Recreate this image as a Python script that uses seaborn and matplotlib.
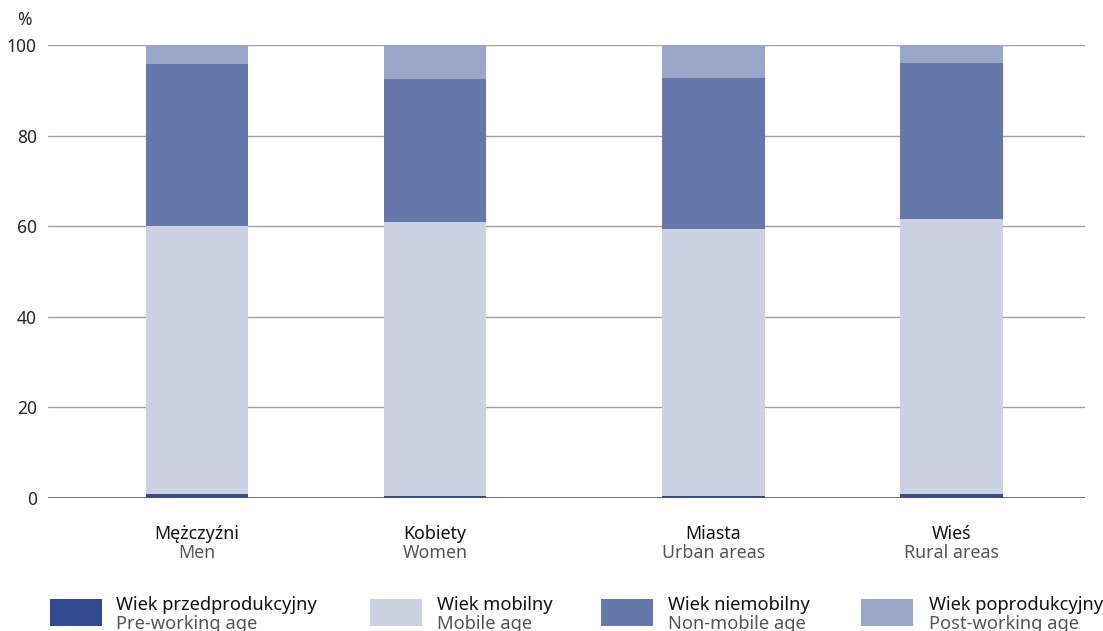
import pandas as pd
import seaborn as sns
import matplotlib.pyplot as plt
import matplotlib.transforms as mtransforms
from matplotlib.patches import Rectangle

categories_pl = ["Mężczyźni", "Kobiety", "Miasta", "Wieś"]
categories_en = ["Men", "Women", "Urban areas", "Rural areas"]
pre_working = [0.9, 0.5, 0.5, 0.9]
mobile = [59.1, 60.4, 58.9, 60.7]
non_mobile = [35.8, 31.6, 33.3, 34.4]
post_working = [4.2, 7.5, 7.3, 4.0]

series_pl = ["Wiek przedprodukcyjny", "Wiek mobilny", "Wiek niemobilny", "Wiek poprodukcyjny"]
series_en = ["Pre-working age", "Mobile age", "Non-mobile age", "Post-working age"]
colors = ["#344b91", "#cbd0e3", "#6677ab", "#99a6c8"]

# group gap between sex and place of residence
xpos = [0, 1, 2.17, 3.17]

sns.set_style("white")
plt.rcParams['font.family'] = ['Noto Sans', 'DejaVu Sans']

fig = plt.figure(figsize=(11.03, 6.31), dpi=100)
ax = fig.add_axes([48 / 1103, 1 - 498 / 631, (1085 - 48) / 1103, 453 / 631])

layers = [pre_working, mobile, non_mobile, post_working]
cum = []
run = [0.0] * 4
for layer in layers:
    run = [a + b for a, b in zip(run, layer)]
    cum.append(list(run))

# draw from top layer down so each overplots the one above
for i in range(3, -1, -1):
    df = pd.DataFrame({"x": xpos, "y": cum[i]})
    sns.barplot(data=df, x="x", y="y", native_scale=True, width=0.43,
                color=colors[i], saturation=1, ax=ax, linewidth=0, zorder=3)

ax.set_xlim(-0.626, 3.731)
ax.set_ylim(0, 100)
ax.set_yticks([0, 20, 40, 60, 80, 100])
ax.set_yticklabels(["0", "20", "40", "60", "80", "100"], fontsize=12.5)
ax.tick_params(axis="y", length=0, pad=8)
ax.set_xticks([])
ax.set_xlabel("")
ax.set_ylabel("")
for s in ax.spines.values():
    s.set_visible(False)
for t in [20, 40, 60, 80, 100]:
    ax.axhline(t, color="#a0a0a0", linewidth=1, zorder=1)
ax.axhline(0, color="#555555", linewidth=1.2, zorder=4)

fig.text(24 / 1103, 1 - 20 / 631, "%", fontsize=12.5, ha="center", va="center")

trans = mtransforms.blended_transform_factory(ax.transData, fig.transFigure)
for x, pl, en in zip(xpos, categories_pl, categories_en):
    ax.text(x, 1 - 534 / 631, pl, transform=trans, ha="center", va="center",
            fontsize=12.8, color="#111111")
    ax.text(x, 1 - 553 / 631, en, transform=trans, ha="center", va="center",
            fontsize=12.8, color="#555555")

swatch_x = [50, 370, 601, 861]
text_x = [116, 437, 668, 929]
for sx, tx, c, pl, en in zip(swatch_x, text_x, colors, series_pl, series_en):
    fig.patches.append(Rectangle((sx / 1103, 1 - 626 / 631), 52 / 1103, 27 / 631,
                                 transform=fig.transFigure, facecolor=c,
                                 edgecolor="none"))
    fig.text(tx / 1103, 1 - 605 / 631, pl, fontsize=13.2, color="#111111",
             ha="left", va="center")
    fig.text(tx / 1103, 1 - 624 / 631, en, fontsize=13.2, color="#555555",
             ha="left", va="center")

fig.savefig("out.png", dpi=100)
